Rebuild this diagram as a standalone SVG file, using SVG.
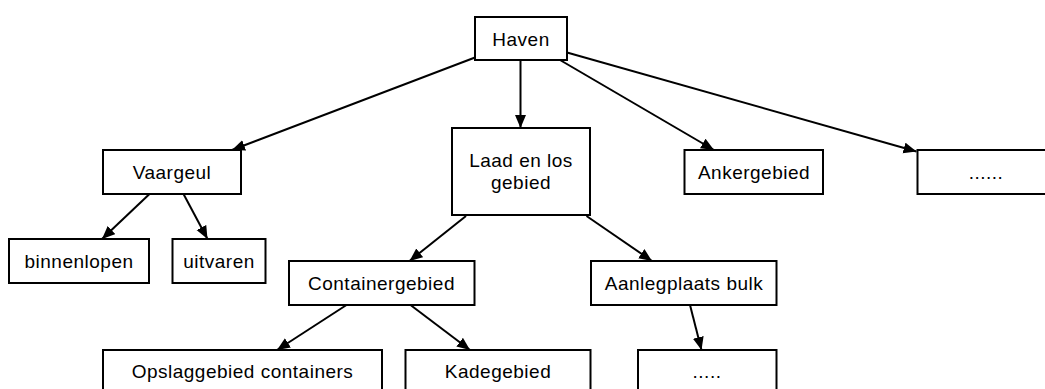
<svg xmlns="http://www.w3.org/2000/svg" width="1045" height="389" viewBox="0 0 1045 389">
<style>
.box{fill:#fff;stroke:#000;stroke-width:2}
.lbl{font-family:"Liberation Sans",Arial,sans-serif;font-size:19px;letter-spacing:0.5px;fill:#000;text-anchor:middle}
.edge{stroke:#000;stroke-width:2;fill:none;marker-end:url(#ah)}
</style>
<defs>
<marker id="ah" markerUnits="userSpaceOnUse" markerWidth="14" markerHeight="12" refX="13" refY="5.5" orient="auto">
<path d="M0,0 L13,5.5 L0,11 z" fill="#000"/>
</marker>
</defs>
<rect width="1045" height="389" fill="#fff"/>
<g id="connectors">
<line class="edge" x1="475" y1="57.5" x2="232" y2="150"/>
<line class="edge" x1="520.5" y1="60" x2="520.5" y2="128"/>
<line class="edge" x1="560" y1="60" x2="714" y2="150"/>
<line class="edge" x1="567" y1="52.5" x2="916.5" y2="151.5"/>
<line class="edge" x1="149.5" y1="194" x2="102" y2="239"/>
<line class="edge" x1="183.5" y1="194" x2="207.5" y2="239"/>
<line class="edge" x1="466" y1="216" x2="409.5" y2="261"/>
<line class="edge" x1="586.5" y1="216" x2="652" y2="261"/>
<line class="edge" x1="346.5" y1="305" x2="277" y2="350"/>
<line class="edge" x1="410.5" y1="305" x2="470" y2="350"/>
<line class="edge" x1="690" y1="305" x2="701.5" y2="350"/>
</g>
<g id="haven"><rect class="box" x="475" y="17" width="92" height="43"/><text class="lbl" x="521" y="45.5">Haven</text></g>
<g id="vaargeul"><rect class="box" x="103" y="150" width="138" height="44"/><text class="lbl" x="172" y="179">Vaargeul</text></g>
<g id="laadlos"><rect class="box" x="452" y="128" width="138" height="87"/><text class="lbl" x="521" y="167">Laad en los</text><text class="lbl" x="521" y="189">gebied</text></g>
<g id="ankergebied"><rect class="box" x="684.5" y="150" width="138.5" height="44"/><text class="lbl" x="754" y="179">Ankergebied</text></g>
<g id="meer1"><rect class="box" x="917.5" y="150" width="137" height="44"/><text class="lbl" x="986" y="179">......</text></g>
<g id="binnenlopen"><rect class="box" x="9" y="239" width="140" height="44"/><text class="lbl" x="79" y="268">binnenlopen</text></g>
<g id="uitvaren"><rect class="box" x="172.5" y="239" width="93" height="44"/><text class="lbl" x="219" y="268">uitvaren</text></g>
<g id="containergebied"><rect class="box" x="289" y="261" width="185.5" height="44"/><text class="lbl" x="381.5" y="290">Containergebied</text></g>
<g id="aanlegplaats"><rect class="box" x="591" y="261" width="185.5" height="44"/><text class="lbl" x="684" y="290">Aanlegplaats bulk</text></g>
<g id="opslaggebied"><rect class="box" x="103" y="350" width="279" height="44"/><text class="lbl" x="242.5" y="377.5">Opslaggebied containers</text></g>
<g id="kadegebied"><rect class="box" x="405.5" y="350" width="185" height="44"/><text class="lbl" x="498" y="377.5">Kadegebied</text></g>
<g id="meer2"><rect class="box" x="638" y="350" width="138.5" height="44"/><text class="lbl" x="707" y="377.5">.....</text></g>
</svg>
